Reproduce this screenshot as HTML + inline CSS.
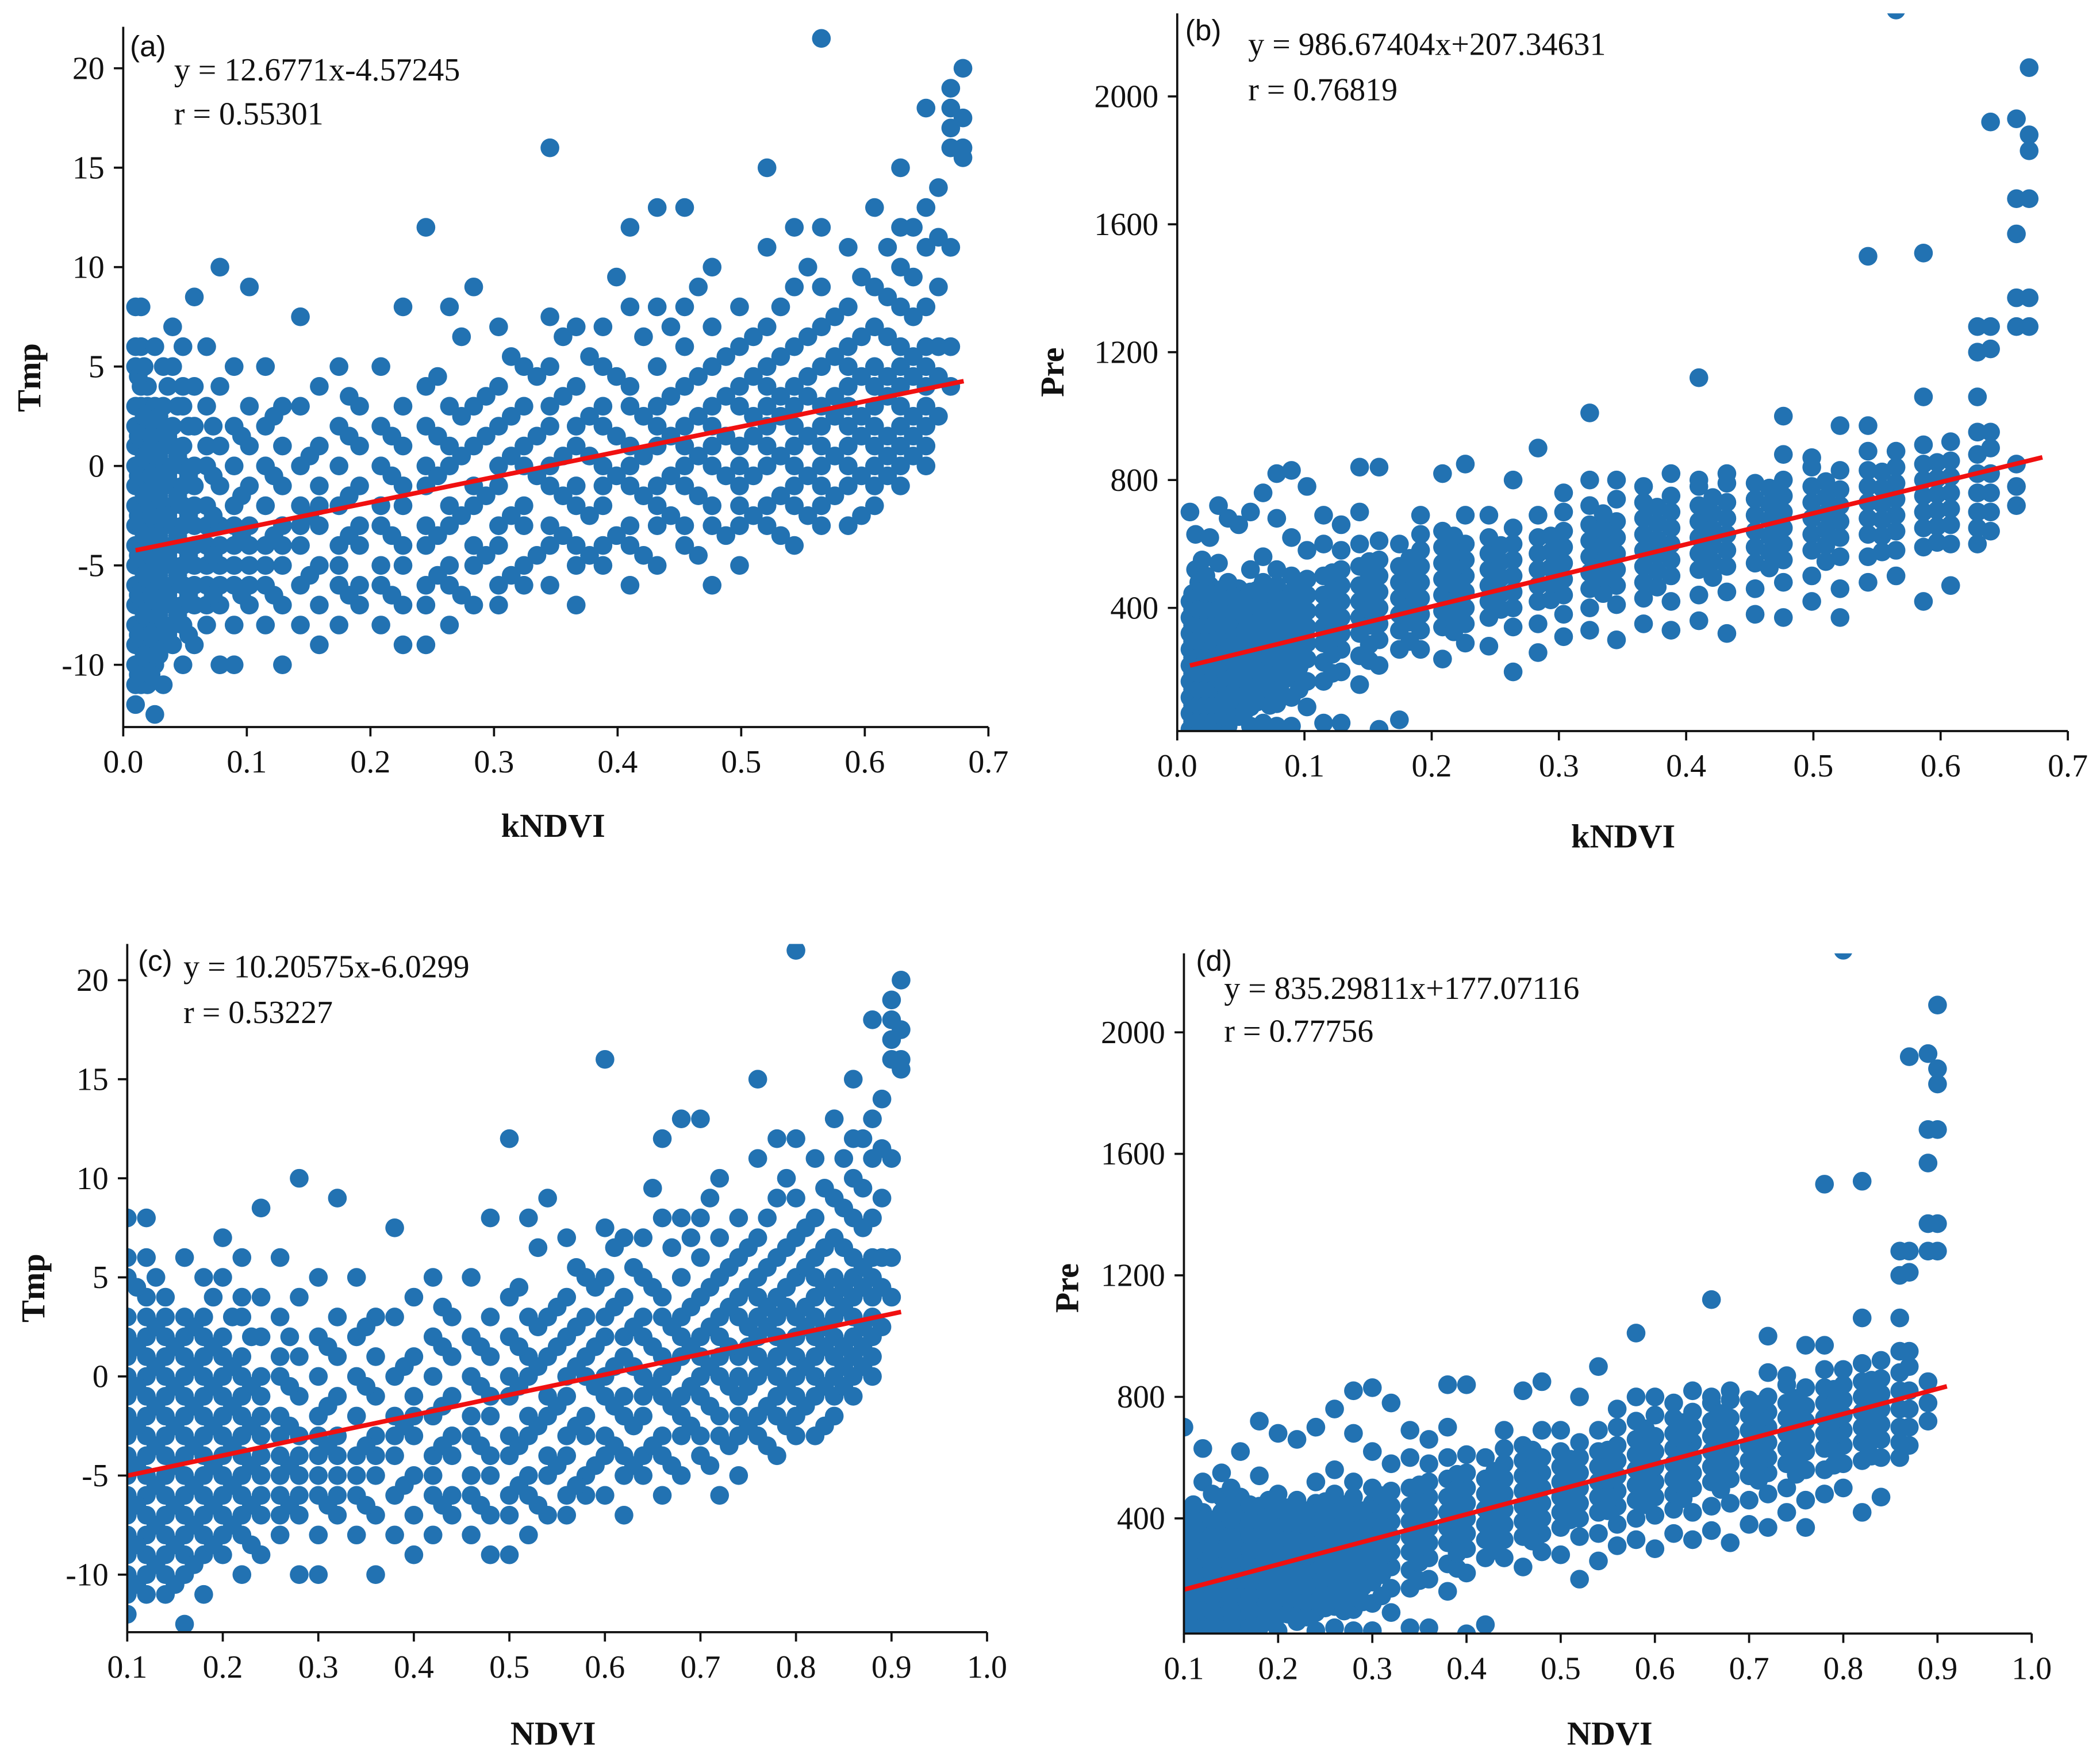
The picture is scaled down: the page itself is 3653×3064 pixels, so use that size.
<!DOCTYPE html>
<html><head><meta charset="utf-8">
<style>
html,body{margin:0;padding:0;background:#fff;}
svg{display:block;}
text{font-family:"Liberation Serif",serif;fill:#111;}
.tick{font-size:24px;}
.ttl{font-size:25px;font-weight:bold;}
.ann{font-size:24px;}
.lab{font-family:"Liberation Sans",sans-serif;font-size:22px;}
</style></head>
<body>
<svg id="fig" width="3653" height="3064" viewBox="0 0 1568 1315.2" xmlns="http://www.w3.org/2000/svg"></svg>
<script>
// ---- data: Tmp dataset (NDVI column -> Tmp values)
const tmpNdvi = [0.10,0.12,0.14,0.16,0.18,0.20,0.22,0.24,0.26,0.28,0.30,0.32,0.34,0.36,0.38,0.40,0.42,0.44,0.46,0.48,0.50,0.52,0.54,0.56,0.58,0.60,0.62,0.64,0.66,0.68,0.70,0.72,0.74,0.76,0.78,0.80,0.82,0.84,0.86,0.88,0.90,0.91,
 0.11,0.13,0.15,0.17,0.19,0.21,0.23,0.27,0.31,0.35,0.39,0.43,0.47,0.51,0.53,0.55,0.57,0.59,0.61,0.63,0.65,0.67,0.69,0.71,0.73,0.75,0.77,0.79,0.81,0.83,0.85,0.87,0.89];
const tmpVals = [
[-12,-11,-10,-9,-8,-7,-6,-5,-4,-3,-2,-1,0,1,2,3,5,6,8],
[-11,-10,-9,-8,-7,-6,-5,-4,-3,-2,-1,0,1,2,3,4,6,8],
[-11,-10,-9,-8,-7,-6,-5,-4,-3,-2,-1,0,1,2,3,4],
[-12.5,-10,-9,-8,-7,-6,-5,-4,-3,-2,-1,0,1,2,3,6],
[-11,-9,-8,-7,-6,-5,-4,-3,-2,-1,0,1,2,3,5],
[-9,-8,-7,-6,-5,-4,-3,-2,-1,0,1,2,5,7],
[-10,-8,-7,-6,-5,-4,-3,-2,-1,0,1,3,4,6],
[-9,-7,-6,-5,-4,-3,-2,-1,0,2,4,8.5],
[-8,-7,-6,-5,-4,-3,-2,0,1,3,6],
[-10,-7,-6,-5,-4,-3,-1,1,4,10],
[-10,-8,-6,-5,-4,-3,-2,0,2,5],
[-7,-6,-5,-4,-3,-1,1,3,9],
[-8,-6,-5,-4,-2,0,2,5],
[-10,-7,-5,-4,-3,-1,1,3],
[-8,-6,-4,-3,-2,0,3,7.5],
[-9,-7,-5,-3,-2,-1,1,4],
[-8,-6,-5,-4,-2,0,2,5],
[-7,-6,-4,-3,-1,1,3],
[-8,-6,-5,-3,-2,0,2,5],
[-9,-7,-5,-4,-2,-1,1,3,8],
[-9,-7,-6,-4,-3,-1,0,2,4,12],
[-8,-6,-5,-3,-2,0,1,3,8],
[-7,-5,-4,-2,-1,1,3,9],
[-7,-6,-4,-3,-1,0,2,4,7],
[-6,-5,-3,-2,0,1,3,5],
[-6,-4,-3,-1,0,2,3,5,7.5,16],
[-7,-5,-4,-2,-1,1,2,4,7],
[-5,-4,-2,-1,0,2,3,5,7],
[-6,-4,-3,-1,0,1,3,4,8,12],
[-5,-3,-2,-1,1,2,3,5,8,13],
[-4,-3,-1,0,1,2,4,6,8,13],
[-6,-3,-2,0,1,2,3,5,7,10],
[-5,-3,-2,-1,0,1,3,4,6,8],
[-3,-2,0,1,2,3,4,5,7,11,15],
[-4,-2,-1,0,1,2,3,4,6,9,12],
[-3,-2,-1,0,1,2,3,5,7,9,12,21.5],
[-3,-1,0,1,2,3,4,5,6,8,11],
[-2,-1,0,1,2,3,4,5,7,9,13],
[-1,0,1,2,3,4,5,6,8,10,12,15],
[0,1,2,3,4,5,6,8,11,13,18],
[4,6,11,16,17,18,19],
[15.5,16,17.5,20],
[-10.5,-8.5,-6.5,-4.5,-2.5,-0.5,1.5,4.5],
[-9.5,-7.5,-5.5,-3.5,-1.5,0.5,2.5,5],
[-10.5,-8.5,-6.5,-4.5,-2.5,-0.5,1.5],
[-9.5,-7.5,-5.5,-3.5,-1.5,0.5,2.5],
[-8.5,-6.5,-4.5,-2.5,-0.5,1.5,4],
[-7.5,-5.5,-3.5,-1.5,0.5,3],
[-8.5,-6.5,-4.5,-2.5,-0.5,2],
[-6.5,-4.5,-2.5,-0.5,2],
[-6.5,-3.5,-1.5,1.5],
[-6.5,-3.5,-0.5,2.5],
[-5.5,-2.5,0.5],
[-6.5,-3.5,-1.5,1.5,3.5],
[-6.5,-3.5,-0.5,1.5],
[-5.5,-3.5,-0.5,1.5,4.5],
[-6.5,-2.5,0.5,2.5,6.5],
[-4.5,-1.5,1.5,3.5],
[-5.5,-2.5,0.5,2.5,5.5],
[-4.5,-0.5,1.5,4.5],
[-3.5,-1.5,0.5,3.5,6.5],
[-4.5,-2.5,0.5,2.5,5.5],
[-3.5,-0.5,1.5,4.5,9.5],
[-4.5,-1.5,0.5,2.5,6.5],
[-2.5,-0.5,1.5,3.5,7],
[-4.5,-1.5,0.5,2.5,4.5,9],
[-3.5,-0.5,1.5,3.5,5.5],
[-2.5,-0.5,1.5,2.5,4.5,6.5],
[-3.5,-1.5,0.5,2.5,3.5,5.5,8],
[-2.5,-0.5,1.5,3.5,4.5,6.5,10],
[-1.5,0.5,2.5,3.5,5.5,7.5],
[-2.5,-0.5,1.5,2.5,4.5,6.5,9.5],
[-0.5,0.5,1.5,3.5,4.5,6.5,8.5,11],
[0.5,1.5,2.5,4.5,5.5,7.5,9.5,12],
[2.5,4.5,6,9,11.5,14]
];
// ---- data: Pre dataset (NDVI column -> Pre values)
const preNdvi = [0.10,0.12,0.14,0.16,0.18,0.20,0.22,0.24,0.26,0.28,0.30,0.32,0.34,0.36,0.38,0.40,0.42,0.44,0.46,0.48,0.50,0.52,0.54,0.56,0.58,0.60,0.62,0.64,0.66,0.68,0.70,0.72,0.74,0.76,0.78,0.80,0.82,0.84,0.86,0.87,0.89,0.90,
 0.11,0.13,0.15,0.17,0.19,0.21,0.23,0.25,0.27,0.29,0.31,0.35,0.39,0.43,0.47,0.51,0.55,0.59,0.63,0.67,0.71,0.75,0.79,0.83];
const preVals = [
[20,70,120,170,220,270,320,370,420,700],
[20,70,120,170,220,270,320,370,420,520,630],
[20,70,120,170,220,270,320,370,420,470,550],
[20,70,120,170,220,270,320,370,420,470,620],
[40,90,140,190,240,290,340,390,440,540,720],
[30,80,130,180,230,280,330,380,430,480,680],
[60,110,160,210,260,310,360,410,460,660],
[30,90,150,200,250,300,350,400,450,520,700],
[40,110,170,230,280,330,380,430,480,560,760],
[30,100,160,220,270,320,370,420,470,520,680,820],
[30,120,190,250,300,350,400,450,500,620,830],
[90,170,240,290,340,390,440,490,580,780],
[40,170,230,290,340,390,440,500,600,690],
[40,200,270,320,370,420,470,520,580,660],
[160,250,320,370,420,470,530,600,700,840],
[20,220,300,350,400,450,500,550,610,840],
[50,270,330,380,430,480,530,600],
[270,330,380,430,480,530,580,630,690],
[240,340,390,440,490,540,590,640,820],
[290,350,400,450,500,550,600,690,850],
[280,370,420,470,520,570,620,690],
[200,340,400,450,500,550,600,650,800],
[260,350,420,470,520,570,620,690,900],
[310,380,440,490,540,590,640,700,760],
[330,400,460,510,560,610,660,720,800,1010],
[300,410,470,520,570,620,670,740,800],
[350,430,480,530,580,630,680,730,780],
[330,420,500,550,600,650,700,750,820],
[360,440,520,570,620,670,720,780,800,1120],
[320,450,530,580,630,680,730,790,820],
[380,460,540,590,640,690,740,790],
[370,480,550,600,650,700,750,800,880,1000],
[420,500,580,630,680,730,780,840,870],
[370,460,560,620,670,720,770,830,970],
[480,560,630,680,730,780,830,890,970,1500],
[500,580,640,690,740,790,840,890,2270],
[420,590,650,700,750,800,850,910,1060,1510],
[470,600,660,710,760,810,860,920],
[600,650,700,760,820,880,950,1060,1200,1280],
[640,700,760,820,900,950,1210,1280,1920],
[720,780,850,1280,1370,1570,1680,1930],
[1280,1370,1680,1830,1880,2090],
[45,95,145,195,245,295,345,395,445],
[45,95,145,195,245,295,345,395,480],
[45,95,145,195,245,295,345,395,445,500],
[45,95,145,195,245,295,345,395,445],
[60,110,160,210,260,310,360,410,460],
[85,135,185,235,285,335,385,435],
[75,125,175,225,275,325,375,425],
[105,155,205,255,305,355,405,455],
[95,145,195,245,295,345,395,445],
[125,175,225,275,325,375,425],
[145,215,275,325,375,425,475],
[195,255,305,355,405,455,510],
[235,285,345,395,445,495,545],
[295,355,405,455,505,555],
[325,375,425,475,525,575,625],
[395,445,495,545,595],
[425,475,525,575,625],
[445,495,545,595,645,695],
[465,515,565,615,665,715],
[495,545,595,645,695,745],
[525,575,625,675,725,775],
[545,595,645,695,745,795],
[575,625,675,725,775,825],
[605,655,705,755,805,855]
];
const kTicks = [0.0,0.1,0.2,0.3,0.4,0.5,0.6,0.7];
const nTicks = [0.1,0.2,0.3,0.4,0.5,0.6,0.7,0.8,0.9,1.0];
const tmpTicks = [-10,-5,0,5,10,15,20];
const preTicks = [400,800,1200,1600,2000];
// drawn regression lines (slope, intercept) as they appear in the figure
const fitA = [12.7,-4.37];
const fitB = [972,210];
const fitC = [10.20575,-6.0299];
const fitD = [826,83];
const fits = {a:fitA,b:fitB,c:fitC,d:fitD};

const NS="http://www.w3.org/2000/svg";
const svg=document.getElementById('fig');
function mk(tag,attrs,parent){const e=document.createElementNS(NS,tag);for(const k in attrs)e.setAttribute(k,attrs[k]);(parent||svg).appendChild(e);return e;}

const panels=[
 {id:'a',x0:92,x1:738,xv0:0,xv1:0.7,yb:543,yt:20,ya:348,yscale:14.85,yv0:0,xt:kTicks,yt2:tmpTicks,ds:'tmp',kx:true,yl:'Tmp',xl:'kNDVI',ylx:22,yly:282,xlx:413,xly:625,lab:[97,42],eq:[130,60],r:[130,93],eqt:'y = 12.6771x-4.57245',rt:'r = 0.55301',fx:[0.01,0.68]},
 {id:'b',x0:879,x1:1544,xv0:0,xv1:0.7,yb:546,yt:10,ya:454,yscale:95.5/400,yv0:400,xt:kTicks,yt2:preTicks,ds:'pre',kx:true,yl:'Pre',xl:'kNDVI',ylx:786,yly:278,xlx:1212,xly:633,lab:[885,30],eq:[932,41],r:[932,75],eqt:'y = 986.67404x+207.34631',rt:'r = 0.76819',fx:[0.01,0.68]},
 {id:'c',x0:95,x1:737,xv0:0.1,xv1:1.0,yb:1219,yt:705,ya:1028,yscale:14.8,yv0:0,xt:nTicks,yt2:tmpTicks,ds:'tmp',kx:false,yl:'Tmp',xl:'NDVI',ylx:25,yly:962,xlx:413,xly:1303,lab:[103,725],eq:[137,730],r:[137,764],eqt:'y = 10.20575x-6.0299',rt:'r = 0.53227',fx:[0.1,0.91]},
 {id:'d',x0:884,x1:1517,xv0:0.1,xv1:1.0,yb:1220,yt:712,ya:1134,yscale:90.75/400,yv0:400,xt:nTicks,yt2:preTicks,ds:'pre',kx:false,yl:'Pre',xl:'NDVI',ylx:797,yly:962,xlx:1202,xly:1303,lab:[893,725],eq:[914,746],r:[914,778],eqt:'y = 835.29811x+177.07116',rt:'r = 0.77756',fx:[0.1,0.91]}
];

panels.forEach(p=>{
  const g=mk('g',{});
  
  
  const sx=v=>p.x0+(v-p.xv0)/(p.xv1-p.xv0)*(p.x1-p.x0);
  const sy=v=>p.ya-(v-p.yv0)*p.yscale;
  const clip=mk('clipPath',{id:'clip-'+p.id},g);
  mk('rect',{x:p.x0,y:p.yt,width:p.x1-p.x0,height:p.yb-p.yt},clip);
  const pts=mk('g',{'clip-path':'url(#clip-'+p.id+')',fill:'#2272b2'},g);
  
  
  const xs=p.ds==='tmp'?tmpNdvi:preNdvi, ys=p.ds==='tmp'?tmpVals:preVals;
  xs.forEach((n,i)=>{
    const xv=p.kx?Math.tanh(n*n):n;
    ys[i].forEach(v=>{
      const c=mk('circle',{cx:sx(xv).toFixed(1),cy:sy(v).toFixed(1),r:7},pts);
      
      
    });
  });
  const f=fits[p.id];
  const ln=mk('line',{x1:sx(p.fx[0]),y1:sy(f[0]*p.fx[0]+f[1]),x2:sx(p.fx[1]),y2:sy(f[0]*p.fx[1]+f[1]),stroke:'#f01010','stroke-width':3.4},g);
  
  
  const ax=mk('path',{d:`M${p.x0},${p.yt}V${p.yb}H${p.x1}`,fill:'none',stroke:'#111','stroke-width':1.6},g);
  
  
  p.xt.forEach(t=>{
    const x=sx(t);
    mk('line',{x1:x,y1:p.yb,x2:x,y2:p.yb+7,stroke:'#111','stroke-width':1.6},g);
    const tx=mk('text',{x:x,y:p.yb+34,'text-anchor':'middle',class:'tick'},g);
    tx.textContent=t.toFixed(1);
    
    
  });
  p.yt2.forEach(t=>{
    const y=sy(t);
    mk('line',{x1:p.x0-7,y1:y,x2:p.x0,y2:y,stroke:'#111','stroke-width':1.6},g);
    const tx=mk('text',{x:p.x0-14,y:y+8,'text-anchor':'end',class:'tick'},g);
    tx.textContent=String(t);
    
    
  });
  const yl=mk('text',{x:p.ylx,y:p.yly,'text-anchor':'middle',class:'ttl',transform:`rotate(-90 ${p.ylx} ${p.yly})`,dy:8},g);
  yl.textContent=p.yl;
  
  
  const xl=mk('text',{x:p.xlx,y:p.xly,'text-anchor':'middle',class:'ttl'},g);
  xl.textContent=p.xl;
  
  
  const lb=mk('text',{x:p.lab[0],y:p.lab[1],class:'lab'},g);
  lb.textContent='('+p.id+')';
  
  
  const eq=mk('text',{x:p.eq[0],y:p.eq[1],class:'ann'},g);
  eq.textContent=p.eqt;
  
  
  const rr=mk('text',{x:p.r[0],y:p.r[1],class:'ann'},g);
  rr.textContent=p.rt;
  
  
});
</script>
</body></html>
